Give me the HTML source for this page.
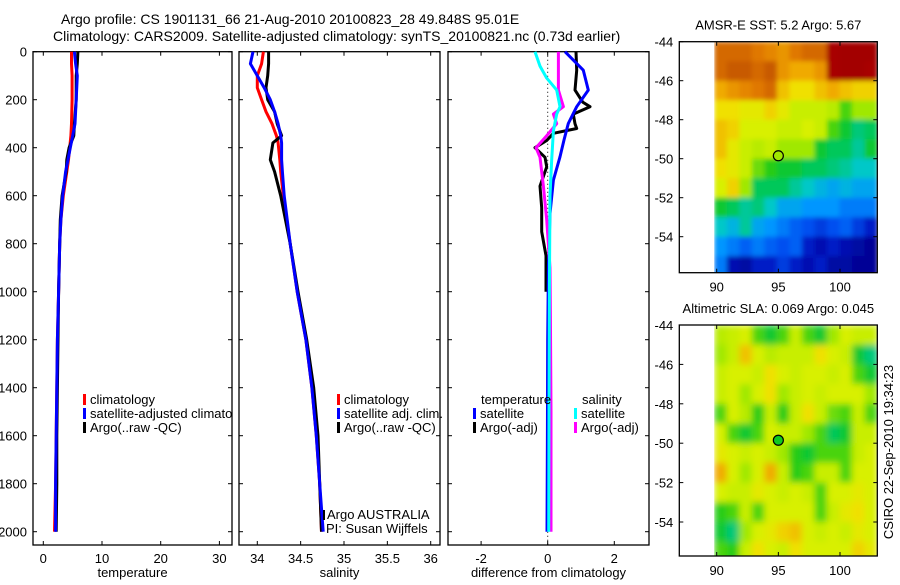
<!DOCTYPE html>
<html><head><meta charset="utf-8">
<style>
html,body{margin:0;padding:0;background:#fff;}
body{width:900px;height:580px;overflow:hidden;font-family:"Liberation Sans",sans-serif;}
svg text{font-family:"Liberation Sans",sans-serif;fill:#000;}
</style></head>
<body>
<svg id="fig" width="900" height="580" viewBox="0 0 900 580" xmlns="http://www.w3.org/2000/svg">
<defs><clipPath id="p1clip"><rect x="33" y="40" width="199" height="520"/></clipPath></defs>
<text x="61" y="24" font-size="14">Argo profile: CS 1901131_66 21-Aug-2010 20100823_28 49.848S 95.01E</text>
<text x="53" y="41" font-size="14">Climatology: CARS2009. Satellite-adjusted climatology: synTS_20100821.nc (0.73d earlier)</text>
<g id="g"></g>
</svg>
<script>
// ---- profile data ----
const tDepth = [0,50,100,200,300,350,400,450,500,600,700,800,1000,1200,1400,1600,1800,2000];
const tClim = [4.8,4.8,4.9,4.9,4.8,4.7,4.5,4.3,4.0,3.4,3.0,2.8,2.6,2.4,2.3,2.2,2.1,1.9];
const tSat  = [5.3,5.5,5.8,5.6,5.4,5.0,4.6,4.2,3.8,3.3,3.0,2.8,2.6,2.4,2.3,2.2,2.1,2.1];
const tArgo = [5.9,5.8,5.6,5.6,5.3,5.2,4.4,4.0,3.9,3.2,2.9,2.8,2.6,2.5,2.4,2.3,2.3,2.2];
const sDepth = [0,50,100,150,200,250,300,350,380,450,500,600,800,1000,1200,1400,1600,1800,2000];
const sClim = [34.07,34.05,34.0,34.0,34.05,34.1,34.17,34.22,34.24,34.26,34.27,34.3,34.38,34.46,34.56,34.63,34.68,34.72,34.74];
const sSat  = [33.95,33.92,34.0,34.08,34.15,34.2,34.24,34.27,34.28,34.28,34.29,34.31,34.38,34.46,34.56,34.63,34.68,34.72,34.76];
const sArgo = [34.13,34.13,34.12,34.1,34.12,34.2,34.23,34.28,34.18,34.15,34.2,34.27,34.38,34.47,34.57,34.65,34.7,34.72,34.74];
const dTSatDepth = [0,77,160,229,299,368,438,535,674,900,1200,1600,2000];
const dTSat      = [0.52,1.07,1.22,0.87,0.62,0.49,0.37,0.17,0.07,0.02,0.0,-0.01,-0.02];
const dTArgoDepth = [0,77,160,210,229,260,300,320,340,370,400,440,480,560,650,750,850,950,1000];
const dTArgo      = [0.85,0.87,0.82,1.05,1.27,0.77,0.82,0.87,0.17,-0.03,-0.38,-0.08,-0.03,-0.23,-0.18,-0.18,-0.05,-0.05,-0.05];
const dSArgoDepth = [0,100,160,229,260,300,350,400,440,500,560,700,900,1100,1500,2000];
const dSArgo      = [0.32,0.32,0.32,0.47,0.17,0.27,-0.03,-0.35,-0.23,-0.18,-0.13,-0.03,0.07,0.08,0.1,0.1];
const dSSatDepth = [0,60,110,160,229,260,330,450,600,1000,1500,2000];
const dSSat      = [-0.38,-0.23,-0.03,0.27,0.37,0.27,0.17,0.12,0.07,0.05,0.04,0.03];
const depthTicks = [0,200,400,600,800,1000,1200,1400,1600,1800,2000];
const tempTicks = [0,10,20,30];
const salTicks = [34,34.5,35,35.5,36];
const salTickLabels = ["34","34.5","35","35.5","36"];
const diffTicks = [-2,0,2];
// ---- map data (colour index 0..1), rows lat -44..-56, cols lon 89.8..103 ----
const sstGrid = [
[0.85,0.85,0.85,0.82,0.8,0.78,0.82,0.85,0.85,0.95,0.98,0.98,0.98],
[0.85,0.88,0.88,0.85,0.88,0.78,0.75,0.75,0.78,0.95,0.98,0.98,0.95],
[0.75,0.78,0.8,0.82,0.85,0.72,0.68,0.68,0.72,0.75,0.72,0.7,0.7],
[0.68,0.68,0.65,0.65,0.7,0.65,0.6,0.6,0.6,0.58,0.5,0.55,0.55],
[0.72,0.7,0.62,0.62,0.62,0.6,0.6,0.62,0.6,0.5,0.45,0.4,0.42],
[0.72,0.65,0.6,0.58,0.6,0.55,0.55,0.55,0.45,0.42,0.42,0.38,0.45],
[0.68,0.65,0.6,0.52,0.48,0.45,0.45,0.42,0.42,0.4,0.38,0.35,0.35],
[0.62,0.7,0.55,0.42,0.42,0.42,0.38,0.35,0.32,0.3,0.32,0.3,0.3],
[0.45,0.42,0.38,0.4,0.35,0.3,0.3,0.28,0.28,0.28,0.25,0.25,0.25],
[0.35,0.32,0.38,0.3,0.28,0.25,0.22,0.2,0.18,0.2,0.22,0.18,0.15],
[0.28,0.25,0.22,0.25,0.22,0.2,0.22,0.15,0.12,0.15,0.12,0.1,0.08],
[0.25,0.12,0.1,0.15,0.15,0.18,0.15,0.12,0.15,0.1,0.1,0.08,0.08]];
const slaGrid = [
[0.58,0.6,0.62,0.5,0.45,0.5,0.6,0.5,0.45,0.55,0.62,0.6,0.6],
[0.55,0.6,0.72,0.62,0.58,0.6,0.6,0.6,0.68,0.62,0.6,0.45,0.4],
[0.6,0.62,0.62,0.6,0.68,0.62,0.6,0.62,0.62,0.6,0.62,0.5,0.45],
[0.6,0.62,0.55,0.62,0.68,0.55,0.6,0.62,0.6,0.62,0.62,0.62,0.55],
[0.5,0.62,0.58,0.48,0.6,0.48,0.6,0.68,0.6,0.52,0.5,0.6,0.5],
[0.62,0.5,0.45,0.5,0.62,0.6,0.6,0.55,0.5,0.42,0.45,0.6,0.6],
[0.65,0.62,0.6,0.62,0.6,0.55,0.48,0.45,0.5,0.5,0.5,0.6,0.62],
[0.75,0.62,0.55,0.62,0.75,0.6,0.48,0.5,0.6,0.6,0.5,0.62,0.62],
[0.62,0.6,0.6,0.65,0.62,0.6,0.62,0.6,0.5,0.62,0.62,0.65,0.62],
[0.48,0.5,0.6,0.5,0.62,0.62,0.62,0.62,0.5,0.6,0.65,0.68,0.62],
[0.45,0.4,0.55,0.62,0.65,0.7,0.72,0.62,0.6,0.62,0.6,0.65,0.62],
[0.5,0.48,0.6,0.68,0.62,0.6,0.68,0.62,0.62,0.62,0.62,0.7,0.65]];
const lonTicks = [90,95,100];
const latTicks = [-44,-46,-48,-50,-52,-54];
const argoLon = 95.0, argoLat = -49.85;
const sstArgoVal = 0.55, slaArgoVal = 0.46;

const NS='http://www.w3.org/2000/svg';
const G=document.getElementById('g');
function mk(tag,attrs,parent){const e=document.createElementNS(NS,tag);for(const k in attrs)e.setAttribute(k,attrs[k]);(parent||G).appendChild(e);return e;}
const CM=[[0,[0,0,128]],[0.08,[0,0,150]],[0.14,[0,20,190]],[0.2,[0,80,240]],[0.28,[0,150,255]],[0.35,[0,200,200]],[0.42,[0,200,90]],[0.47,[20,200,20]],[0.55,[160,232,0]],[0.62,[216,240,0]],[0.68,[240,224,0]],[0.75,[240,170,0]],[0.82,[224,120,0]],[0.88,[200,90,0]],[0.95,[168,0,0]],[1,[160,0,0]]];
function cmap(v){v=Math.max(0,Math.min(1,v));
 for(let i=1;i<CM.length;i++){if(v<=CM[i][0]){const a=CM[i-1],b=CM[i],t=(v-a[0])/(b[0]-a[0]);
  return 'rgb('+a[1].map((c,k)=>Math.round(c+(b[1][k]-c)*t)).join(',')+')';}}
 return 'rgb(160,0,0)';}

const Y0=51.7, YS=0.24, PB=545;
const yD=d=>Y0+d*YS;
function panel(name,x0,x1,xs,xticks,xlabels,xlabel,showY){
 const g=mk('g',{});
 
 
 const r=mk('rect',{x:x0,y:Y0,width:x1-x0,height:PB-Y0,fill:'none',stroke:'#000','stroke-width':1.3},g);
 
 
 depthTicks.forEach(d=>{const y=yD(d);
  mk('line',{x1:x0,x2:x0+4,y1:y,y2:y,stroke:'#000'},g);mk('line',{x1:x1-4,x2:x1,y1:y,y2:y,stroke:'#000'},g);
  if(showY){const t=mk('text',{x:x0-6,y:y+5,'font-size':13,'text-anchor':'end'},g);t.textContent=d;
   
   }
 });
 xticks.forEach((v,i)=>{const x=xs(v);
  mk('line',{x1:x,x2:x,y1:PB,y2:PB-4,stroke:'#000'},g);mk('line',{x1:x,x2:x,y1:Y0,y2:Y0+4,stroke:'#000'},g);
  const t=mk('text',{x:x,y:PB+18,'font-size':13,'text-anchor':'middle'},g);t.textContent=xlabels[i];
  
  
 });
 const t=mk('text',{x:(x0+x1)/2,y:PB+32,'font-size':13,'text-anchor':'middle'},g);t.textContent=xlabel;
 
 
 return g;
}
function line(g,name,xs,vals,depths,color){
 const p=mk('polyline',{points:vals.map((v,i)=>xs(v).toFixed(1)+','+yD(depths[i]).toFixed(1)).join(' '),fill:'none',stroke:color,'stroke-width':3,'stroke-linejoin':'round'},g);
 
 
}
function leg(g,x,y,color,label){
 mk('rect',{x:x,y:y-10,width:3,height:11,fill:color},g);
 const t=mk('text',{x:x+7,y:y,'font-size':13},g);t.textContent=label;
 
 
}
// panel 1
const xT=v=>43.3+v*5.87;
const p1=panel('temperature-panel',33,232,xT,tempTicks,tempTicks.map(String),'temperature',true);
line(p1,'temp-climatology-line',xT,tClim,tDepth,'#f00');
line(p1,'temp-argo-line',xT,tArgo,tDepth,'#000');
line(p1,'temp-satellite-line',xT,tSat,tDepth,'#00f');
const l1=mk('g',{'clip-path':'url(#p1clip)'},p1);


leg(l1,83,404,'#f00','climatology');leg(l1,83,418,'#00f','satellite-adjusted climatology');leg(l1,83,432,'#000','Argo(..raw -QC)');
// panel 2
const xS=v=>257.3+(v-34)*86.7;
const p2=panel('salinity-panel',239,440,xS,salTicks,salTickLabels,'salinity',false);
line(p2,'sal-climatology-line',xS,sClim,sDepth,'#f00');
line(p2,'sal-argo-line',xS,sArgo,sDepth,'#000');
line(p2,'sal-satellite-line',xS,sSat,sDepth,'#00f');
leg(p2,337,404,'#f00','climatology');leg(p2,337,418,'#00f','satellite adj. clim.');leg(p2,337,432,'#000','Argo(..raw -QC)');
mk('rect',{x:323,y:510,width:2,height:10,fill:'#000'},p2);
let tt=mk('text',{x:327,y:519,'font-size':13},p2);tt.textContent='Argo AUSTRALIA';


tt=mk('text',{x:326,y:533,'font-size':13},p2);tt.textContent='PI: Susan Wijffels';


// panel 3
const xDf=v=>547.7+v*33.3;
const p3=panel('difference-panel',448,649,xDf,diffTicks,diffTicks.map(String),'difference from climatology',false);
mk('line',{x1:xDf(0),x2:xDf(0),y1:Y0,y2:PB,stroke:'#000','stroke-dasharray':'1,3'},p3);
line(p3,'diff-temp-argo-line',xDf,dTArgo,dTArgoDepth,'#000');
line(p3,'diff-temp-satellite-line',xDf,dTSat,dTSatDepth,'#00f');
line(p3,'diff-sal-argo-line',xDf,dSArgo,dSArgoDepth,'#f0f');
line(p3,'diff-sal-satellite-line',xDf,dSSat,dSSatDepth,'#0ff');
tt=mk('text',{x:481,y:404,'font-size':13},p3);tt.textContent='temperature';


tt=mk('text',{x:582,y:404,'font-size':13},p3);tt.textContent='salinity';


leg(p3,473,418,'#00f','satellite');leg(p3,473,432,'#000','Argo(-adj)');
leg(p3,574,418,'#0ff','satellite');leg(p3,574,432,'#f0f','Argo(-adj)');
// maps
function map(name,grid,top,bottom,latScale,title,argoVal,blur){
 const g=mk('g',{});
 
 
 const L=679.3,R=877.3,xL=v=>716.7+(v-90)*12.33,yL=v=>top+(-44-v)*latScale;
 const lon0=89.8,lon1=103,lat0=-44,nR=grid.length,nC=grid[0].length;
 const cw=(lon1-lon0)/nC,ch=12/nR;
 const defs=mk('defs',{},g);
 const cp=mk('clipPath',{id:'cp'+name},defs);mk('rect',{x:xL(lon0),y:top,width:R-xL(lon0),height:bottom-top},cp);
 const f=mk('filter',{id:'f'+name,x:0,y:0,width:1,height:1},defs);mk('feGaussianBlur',{stdDeviation:blur,edgeMode:'duplicate'},f);
 const hg=mk('g',{'clip-path':'url(#cp'+name+')'},g);
 const hi=mk('g',{filter:'url(#f'+name+')'},hg);
 grid.forEach((row,i)=>row.forEach((v,j)=>{
  const c=mk('rect',{x:xL(lon0+j*cw).toFixed(1),y:yL(lat0-i*ch).toFixed(1),width:(cw*12.33+0.8).toFixed(1),height:(ch*latScale+0.8).toFixed(1),fill:cmap(v)},hi);
  
  
 }));
 const fr=mk('rect',{x:L,y:top,width:R-L,height:bottom-top,fill:'none',stroke:'#000','stroke-width':1.3},g);
 
 
 const c=mk('circle',{cx:xL(argoLon),cy:yL(argoLat),r:5,fill:cmap(argoVal),stroke:'#000','stroke-width':1.2},g);
 
 
 latTicks.forEach(v=>{const y=yL(v);
  mk('line',{x1:L,x2:L+4,y1:y,y2:y,stroke:'#000'},g);mk('line',{x1:R-4,x2:R,y1:y,y2:y,stroke:'#000'},g);
  const t=mk('text',{x:L-6,y:y+5,'font-size':13,'text-anchor':'end'},g);t.textContent=v;
  
  });
 lonTicks.forEach(v=>{const x=xL(v);
  mk('line',{x1:x,x2:x,y1:bottom,y2:bottom-4,stroke:'#000'},g);mk('line',{x1:x,x2:x,y1:top,y2:top+4,stroke:'#000'},g);
  const t=mk('text',{x:x,y:bottom+19,'font-size':13,'text-anchor':'middle'},g);t.textContent=v;
  
  });
 const t=mk('text',{x:(L+R)/2,y:top-12,'font-size':13,'text-anchor':'middle'},g);t.textContent=title;
 
 
}
map('sst-map',sstGrid,41.7,272.7,19.5,'AMSR-E SST: 5.2 Argo: 5.67',sstArgoVal,2.5);
map('sla-map',slaGrid,325,556,19.7,'Altimetric SLA: 0.069 Argo: 0.045',slaArgoVal,3.5);
tt=mk('text',{x:0,y:0,'font-size':13,'text-anchor':'middle',transform:'translate(893,452) rotate(-90)'});tt.textContent='CSIRO 22-Sep-2010 19:34:23';


</script>
</body></html>
